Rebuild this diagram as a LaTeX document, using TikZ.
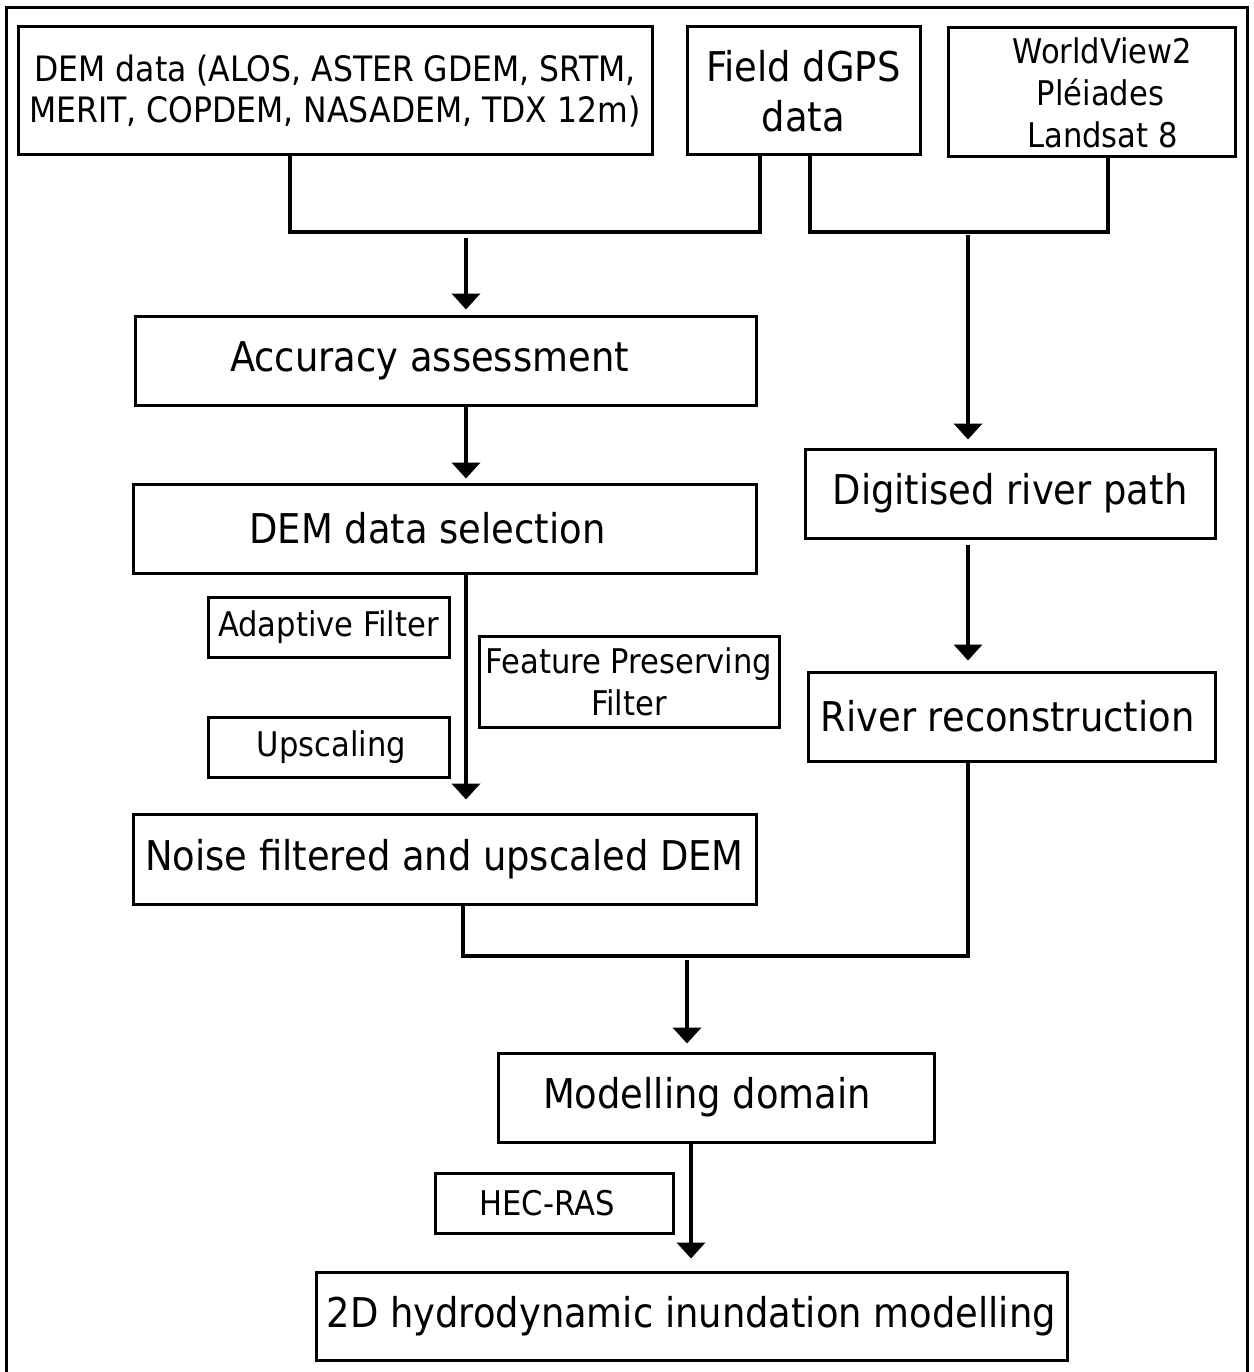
\documentclass[tikz,border=0pt]{standalone}
\usepackage{fontspec}
\setmainfont{DejaVu Sans Condensed}
\usetikzlibrary{arrows.meta}
\begin{document}
\begin{tikzpicture}[x=1pt,y=-1pt,
  box/.style={draw,line width=3pt,inner sep=0pt,align=center},
  big/.style={font=\fontsize{41}{48}\selectfont},
  small/.style={font=\fontsize{34}{42}\selectfont},
  conn/.style={line width=4pt},
  arr/.style={line width=4pt,-{Triangle[length=16pt,width=28pt]}}]
\useasboundingbox (0,0) rectangle (1253,1372);
\draw[line width=3pt] (6,1420) -- (6,8) -- (1247,8) -- (1247,1420);
% top row
\node[box,minimum width=634pt,minimum height=128pt,font=\fontsize{35}{41}\selectfont] (dem) at (335,91)
  {DEM data (ALOS, ASTER GDEM, SRTM,\\MERIT, COPDEM, NASADEM, TDX 12m)};
\node[box,minimum width=233pt,minimum height=128pt,font=\fontsize{41}{50}\selectfont] (gps) at (803.5,91)
  {Field dGPS\\data};
\node[box,minimum width=287pt,minimum height=129pt,font=\fontsize{34}{42}\selectfont] (wv) at (1091.5,92.5)
  {\hspace*{22pt}WorldView2\\\hspace*{18pt}Pléiades\\\hspace*{22pt}Landsat 8};
% left column
\node[box,big,minimum width=621pt,minimum height=89pt] (acc) at (445.5,360.5) {Accuracy assessment\hspace*{32pt}};
\node[box,big,minimum width=623pt,minimum height=89pt] (sel) at (444.5,528.5) {DEM data selection\hspace*{34pt}};
\node[box,small,minimum width=241pt,minimum height=60pt] (adapt) at (328.5,627) {Adaptive Filter};
\node[box,minimum width=300pt,minimum height=91pt,font=\fontsize{34}{42}\selectfont] (feat) at (629,681.5) {Feature Preserving\\Filter};
\node[box,small,minimum width=241pt,minimum height=60pt] (ups) at (328.5,747) {Upscaling\hspace*{-6pt}};
\node[box,big,minimum width=623pt,minimum height=90pt] (noise) at (444.5,859) {Noise filtered and upscaled DEM};
% right column
\node[box,big,minimum width=410pt,minimum height=89pt] (dig) at (1010,493.5) {Digitised river path};
\node[box,big,minimum width=407pt,minimum height=89pt] (riv) at (1011.5,716.5) {River reconstruction\hspace*{8pt}};
% bottom
\node[box,big,minimum width=436pt,minimum height=89pt] (mod) at (716,1097.5) {Modelling domain\hspace*{18pt}};
\node[box,small,minimum width=238pt,minimum height=60pt] (hec) at (554,1203) {HEC-RAS\hspace*{14pt}};
\node[box,big,minimum width=751pt,minimum height=88pt] (hyd) at (691.5,1316) {2D hydrodynamic inundation modelling};
% junctions
\coordinate (j1) at (290,232);
\coordinate (j2) at (760,232);
\coordinate (j3) at (810,232);
\coordinate (j4) at (1108,232);
\coordinate (j5) at (463,956);
\coordinate (j6) at (968,956);
\coordinate (a1) at (466,238);
\coordinate (a2) at (968,235);
\coordinate (a3) at (466,405);
\coordinate (a4) at (466,573);
\coordinate (a5) at (968,545);
\coordinate (a6) at (687,960);
\coordinate (a7) at (691,1142);
\draw[conn] (dem.south -| j1) -- (j1) -- (j2) -- (gps.south -| j2);
\draw[conn] (gps.south -| j3) -- (j3) -- (j4) -- (wv.south -| j4);
\draw[conn] (noise.south -| j5) -- (j5) -- (j6) -- (riv.south -| j6);
\draw[arr] (a1) -- ([yshift=5pt]acc.north -| a1);
\draw[arr] (a2) -- ([yshift=8pt]dig.north -| a2);
\draw[arr] (a3) -- ([yshift=4pt]sel.north -| a3);
\draw[arr] (a4) -- ([yshift=13pt]noise.north -| a4);
\draw[arr] (a5) -- ([yshift=10pt]riv.north -| a5);
\draw[arr] (a6) -- ([yshift=8pt]mod.north -| a6);
\draw[arr] (a7) -- ([yshift=12pt]hyd.north -| a7);
\end{tikzpicture}
\end{document}
